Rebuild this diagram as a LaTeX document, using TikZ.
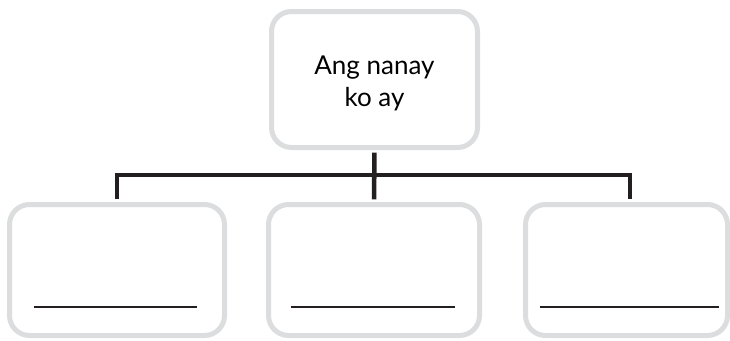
\documentclass[tikz,border=0pt]{standalone}
\usepackage{fontspec}
\setmainfont{Lato}
\definecolor{boxgray}{HTML}{DCDDDE}
\definecolor{ink}{HTML}{231F20}
\begin{document}
\begin{tikzpicture}[x=0.75pt,y=-0.75pt,
  box/.style={draw=boxgray,fill=white,line width=3.75pt,rounded corners=15pt,minimum height=131*0.75pt,inner sep=0pt},
  conn/.style={draw=ink,line width=3.4pt,line join=miter},
  blank/.style={draw=ink,line width=1.1pt},
  lbl/.style={font=\fontsize{19.5}{24}\selectfont,align=center,inner sep=0pt}]
\useasboundingbox (0,0) rectangle (730,340);
\node[box,minimum width=206*0.75pt,minimum height=136*0.75pt] (top) at (374.5,79.5) {};
\node[lbl] (toptext) at ([yshift=-3pt]top.center) {Ang nanay\\ko ay};
\node[box,minimum width=215*0.75pt] (b1) at (117,270) {};
\node[box,minimum width=211*0.75pt] (b2) at (374,270) {};
\node[box,minimum width=202*0.75pt] (b3) at (626.5,270) {};
\coordinate (bar) at (374.5,175);
\coordinate (s3) at ([xshift=2.6pt]b3.north);
\draw[conn,shorten <=2pt,shorten >=1.9pt] (top.south) -- (b2.north);
\draw[conn,shorten <=1.9pt,shorten >=1.9pt] (b1.north) -- (b1.north |- bar) -- (s3 |- bar) -- (s3);
\draw[blank] (34,307) -- (197,307);
\draw[blank] (291,307) -- (455,307);
\draw[blank] (540,307) -- (719,307);
\end{tikzpicture}
\end{document}
